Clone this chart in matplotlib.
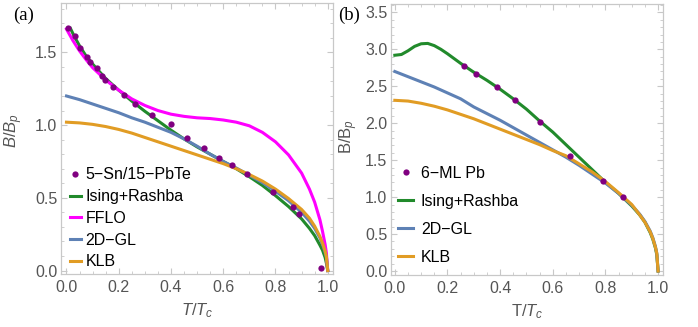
import numpy as np
import matplotlib.pyplot as plt
from matplotlib.ticker import MultipleLocator, FormatStrFormatter

plt.rcParams['font.family'] = ['Liberation Sans', 'DejaVu Sans']
plt.rcParams['mathtext.fontset'] = 'custom'
plt.rcParams['mathtext.rm'] = 'Liberation Sans'
plt.rcParams['mathtext.it'] = 'Liberation Sans:italic'

# ---- panel (a): 5-Sn/15-PbTe ----
a_pts_t = [0.007, 0.033, 0.052, 0.077, 0.090, 0.116, 0.135, 0.147, 0.179, 0.220, 0.262,
           0.326, 0.400, 0.460, 0.526, 0.585, 0.635, 0.690, 0.789, 0.868, 0.890, 0.974]
a_pts_b = [1.666, 1.613, 1.529, 1.471, 1.436, 1.391, 1.338, 1.311, 1.265, 1.207, 1.145,
           1.070, 1.008, 0.914, 0.841, 0.777, 0.726, 0.665, 0.543, 0.440, 0.390, 0.016]

a_ising_t = [0.015, 0.03, 0.05, 0.075, 0.1, 0.125, 0.15, 0.2, 0.25, 0.3, 0.35, 0.4, 0.45, 0.5,
             0.55, 0.6, 0.65, 0.7, 0.75, 0.8, 0.85, 0.9, 0.93, 0.95, 0.97, 0.98, 0.99, 0.995, 1.0]
a_ising_b = [1.665, 1.61, 1.545, 1.475, 1.42, 1.37, 1.32, 1.24, 1.165, 1.095, 1.03, 0.965, 0.905,
             0.85, 0.8, 0.75, 0.7, 0.645, 0.585, 0.515, 0.44, 0.355, 0.29, 0.24, 0.175, 0.14,
             0.09, 0.05, 0.0]

a_fflo_t = [0.0, 0.025, 0.05, 0.075, 0.1, 0.15, 0.2, 0.25, 0.3, 0.35, 0.4, 0.45, 0.5, 0.55, 0.6,
            0.65, 0.7, 0.75, 0.8, 0.85, 0.9, 0.93, 0.95, 0.97, 0.98, 0.99, 0.995, 1.0]
a_fflo_b = [1.66, 1.58, 1.51, 1.45, 1.395, 1.31, 1.24, 1.18, 1.135, 1.1, 1.075, 1.06, 1.05,
            1.045, 1.035, 1.02, 0.995, 0.95, 0.885, 0.795, 0.67, 0.56, 0.47, 0.35, 0.27, 0.18,
            0.12, 0.0]

a_gl_t = [0.0, 0.05, 0.1, 0.15, 0.2, 0.25, 0.3, 0.35, 0.4, 0.45, 0.5, 0.55, 0.6, 0.65, 0.7,
          0.75, 0.8, 0.85, 0.9, 0.93, 0.95, 0.97, 0.98, 0.99, 0.995, 1.0]
a_gl_b = [1.2, 1.175, 1.145, 1.115, 1.085, 1.05, 1.02, 0.985, 0.95, 0.905, 0.855, 0.8, 0.75,
          0.705, 0.655, 0.605, 0.545, 0.48, 0.4, 0.34, 0.29, 0.225, 0.18, 0.125, 0.09, 0.0]

a_klb_t = [0.0, 0.05, 0.1, 0.15, 0.2, 0.25, 0.3, 0.35, 0.4, 0.45, 0.5, 0.55, 0.6, 0.65, 0.7,
           0.75, 0.8, 0.85, 0.9, 0.93, 0.95, 0.97, 0.98, 0.99, 0.995, 1.0]
a_klb_b = [1.02, 1.015, 1.005, 0.99, 0.97, 0.945, 0.915, 0.885, 0.855, 0.825, 0.795, 0.765,
           0.735, 0.7, 0.66, 0.615, 0.56, 0.495, 0.42, 0.36, 0.305, 0.235, 0.19, 0.135, 0.095, 0.0]

# ---- panel (b): 6-ML Pb ----
b_pts_t = [0.261, 0.309, 0.388, 0.458, 0.553, 0.665, 0.789, 0.868]
b_pts_b = [2.78, 2.67, 2.49, 2.32, 2.01, 1.55, 1.22, 1.00]

b_ising_t = [0.0, 0.025, 0.05, 0.075, 0.1, 0.125, 0.15, 0.175, 0.2, 0.25, 0.3, 0.35, 0.4, 0.45,
             0.5, 0.55, 0.6, 0.65, 0.7, 0.75, 0.8, 0.85, 0.9, 0.93, 0.95, 0.97, 0.98, 0.99,
             0.995, 1.0]
b_ising_b = [2.92, 2.93, 2.98, 3.04, 3.075, 3.08, 3.05, 3.0, 2.94, 2.81, 2.69, 2.58, 2.46, 2.33,
             2.19, 2.03, 1.88, 1.71, 1.54, 1.37, 1.2, 1.05, 0.88, 0.76, 0.66, 0.52, 0.43, 0.31,
             0.22, 0.0]

b_gl_t = [0.0, 0.05, 0.1, 0.15, 0.2, 0.25, 0.3, 0.35, 0.4, 0.45, 0.5, 0.55, 0.6, 0.65, 0.7,
          0.75, 0.8, 0.85, 0.9, 0.93, 0.95, 0.97, 0.98, 0.99, 0.995, 1.0]
b_gl_b = [2.70, 2.63, 2.56, 2.49, 2.41, 2.33, 2.22, 2.13, 2.04, 1.94, 1.84, 1.74, 1.64, 1.54,
          1.43, 1.31, 1.19, 1.05, 0.89, 0.77, 0.67, 0.54, 0.45, 0.33, 0.24, 0.0]

b_klb_t = [0.0, 0.05, 0.1, 0.15, 0.2, 0.25, 0.3, 0.35, 0.4, 0.45, 0.5, 0.55, 0.6, 0.65, 0.7,
           0.75, 0.8, 0.85, 0.9, 0.93, 0.95, 0.97, 0.98, 0.99, 0.995, 1.0]
b_klb_b = [2.31, 2.30, 2.27, 2.23, 2.18, 2.12, 2.06, 1.99, 1.92, 1.85, 1.78, 1.71, 1.63, 1.56,
           1.45, 1.34, 1.21, 1.06, 0.9, 0.76, 0.66, 0.53, 0.44, 0.32, 0.24, 0.0]

purple = '#800080'
green = '#218a2b'
magenta = '#ff00ff'
blue = '#5e81b5'
orange = '#e19c24'
frame_col = '#c8c8c8'
text_col = '#555555'

fig = plt.figure(figsize=(6.98, 3.27), dpi=100)
ax1 = fig.add_axes([0.087, 0.162, 0.390, 0.830])
ax2 = fig.add_axes([0.560, 0.159, 0.390, 0.828])

lw = 2.2
ms = 4.5

# panel (a)
ax1.plot(a_pts_t, a_pts_b, 'o', color=purple, ms=ms, mec='none', label='5\u2212Sn/15\u2212PbTe', zorder=5)
ax1.plot(a_ising_t, a_ising_b, color=green, lw=lw, label='Ising+Rashba')
ax1.plot(a_fflo_t, a_fflo_b, color=magenta, lw=lw, label='FFLO')
ax1.plot(a_gl_t, a_gl_b, color=blue, lw=lw, label='2D\u2212GL')
ax1.plot(a_klb_t, a_klb_b, color=orange, lw=lw, label='KLB')
ax1.set_xlim(-0.022, 1.02)
ax1.set_ylim(-0.024, 1.842)
ax1.yaxis.set_major_locator(MultipleLocator(0.5))
ax1.yaxis.set_minor_locator(MultipleLocator(0.1))
ax1.set_xlabel(r'$T/T_c$', fontsize=12, color=text_col)
ax1.set_ylabel(r'$B/B_p$', fontsize=12, color=text_col)
ax1.legend(loc='lower left', bbox_to_anchor=(0.015, 0.0), frameon=False, fontsize=11.5,
           handlelength=0.7, handletextpad=0.3, labelspacing=0.42, borderpad=0.1,
           borderaxespad=0.2)

# panel (b)
ax2.plot(b_pts_t, b_pts_b, 'o', color=purple, ms=ms, mec='none', label='6\u2212ML Pb', zorder=5)
ax2.plot(b_ising_t, b_ising_b, color=green, lw=lw, label='Ising+Rashba')
ax2.plot(b_gl_t, b_gl_b, color=blue, lw=lw, label='2D\u2212GL')
ax2.plot(b_klb_t, b_klb_b, color=orange, lw=lw, label='KLB')
ax2.set_xlim(-0.015, 1.019)
ax2.set_ylim(-0.054, 3.61)
ax2.yaxis.set_major_locator(MultipleLocator(0.5))
ax2.yaxis.set_minor_locator(MultipleLocator(0.1))
ax2.set_xlabel(r'T/$T_c$', fontsize=12, color=text_col)
ax2.set_ylabel(r'B/B$_p$', fontsize=12, color=text_col)
ax2.legend(loc='lower left', bbox_to_anchor=(0.01, 0.02), frameon=False, fontsize=11.5,
           handlelength=0.9, handletextpad=0.5, labelspacing=0.82, borderpad=0.1,
           borderaxespad=0.2)

for ax in (ax1, ax2):
    ax.xaxis.set_major_locator(MultipleLocator(0.2))
    ax.xaxis.set_minor_locator(MultipleLocator(0.05))
    ax.xaxis.set_major_formatter(FormatStrFormatter('%.1f'))
    ax.yaxis.set_major_formatter(FormatStrFormatter('%.1f'))
    ax.tick_params(which='both', direction='in', top=True, right=True, color=frame_col,
                   labelcolor=text_col, labelsize=11.5)
    ax.tick_params(which='major', length=4, width=0.8)
    ax.tick_params(which='minor', length=2.2, width=0.6)
    ax.tick_params(axis='x', pad=4)
    ax.tick_params(axis='y', pad=2.5)
    for s in ax.spines.values():
        s.set_color(frame_col)
        s.set_linewidth(0.9)
    ax.xaxis.set_label_coords(0.5, -0.1)

ax1.yaxis.set_label_coords(-0.13, 0.53)
ax2.yaxis.set_label_coords(-0.112, 0.51)

fig.text(0.0186, 0.954, '(a)', family=['Liberation Serif', 'DejaVu Serif'], fontsize=13.5, va='center')
fig.text(0.484, 0.954, '(b)', family=['Liberation Serif', 'DejaVu Serif'], fontsize=13.5, va='center')

fig.savefig('out.png', dpi=100)
